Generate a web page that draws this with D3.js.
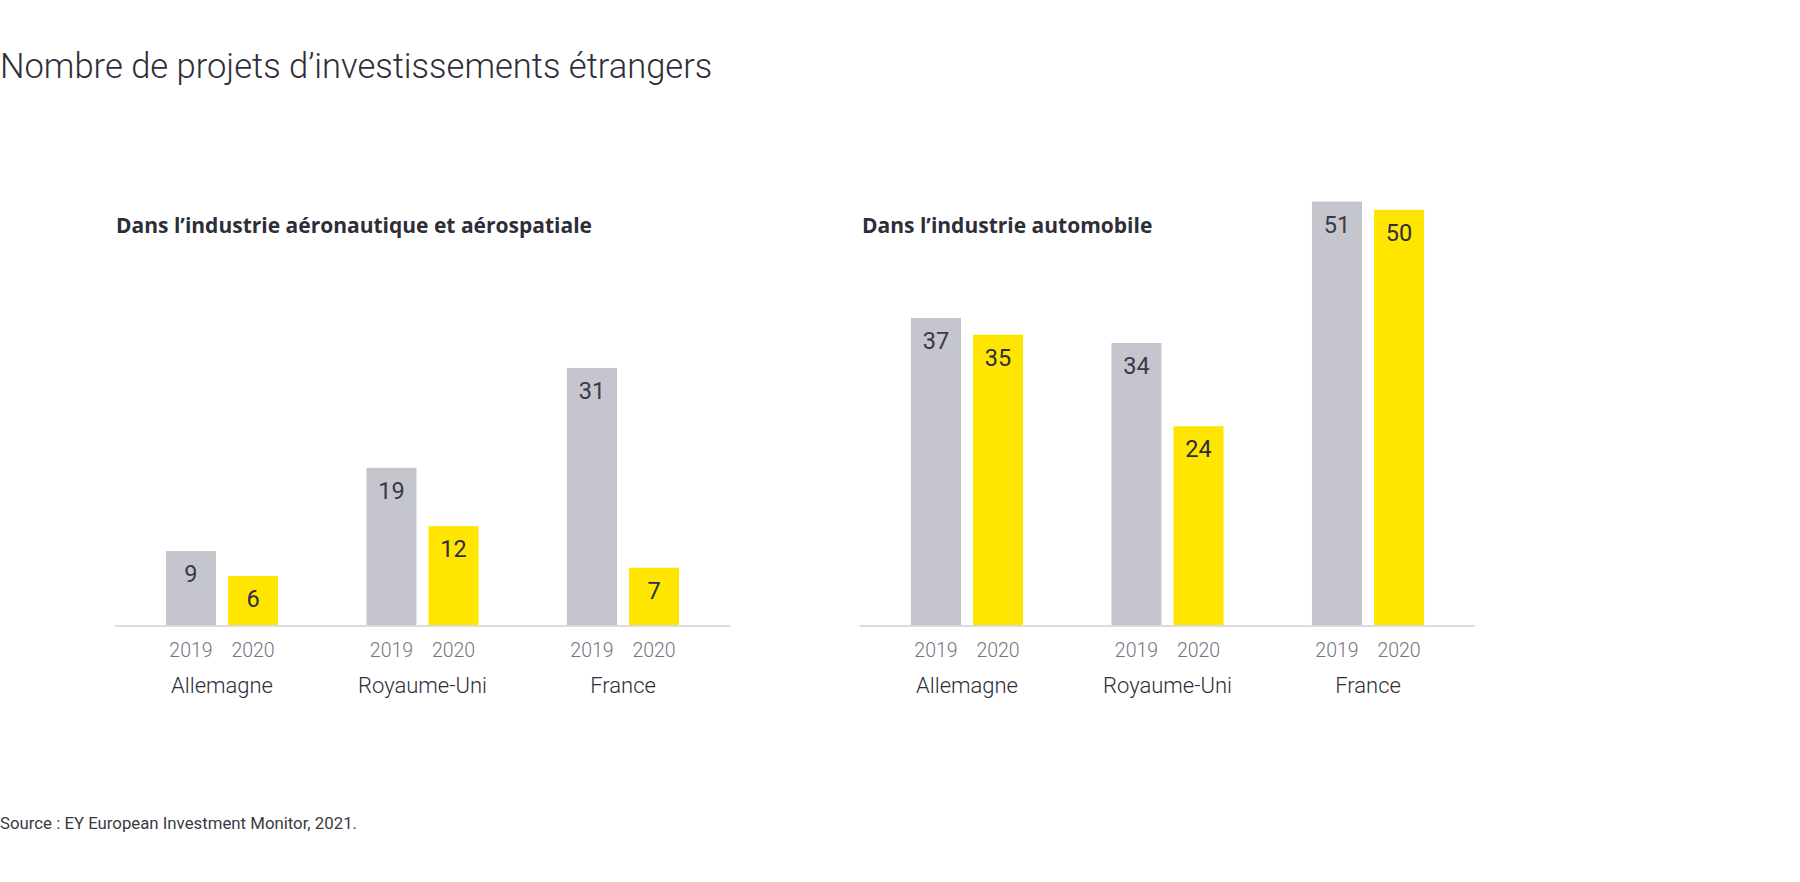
<!DOCTYPE html>
<html lang="fr">
<head>
  <meta charset="UTF-8">
  <title>Nombre de projets d'investissements étrangers</title>
  <script src="https://d3js.org/d3.v7.min.js"></script>
  <style>
    body { margin: 0; background: #fff; }
    svg { display: block; font-family: Roboto, "Noto Sans", sans-serif; }
  </style>
</head>
<body>
  <svg width="1800" height="882"></svg>

  <script>
    // Data
    const countries = ["Allemagne", "Royaume-Uni", "France"];
    const years = ["2019", "2020"];
    const aero2019 = [9, 19, 31];
    const aero2020 = [6, 12, 7];
    const auto2019 = [37, 34, 51];
    const auto2020 = [35, 24, 50];
    const panelTitles = ["Dans l’industrie aéronautique et aérospatiale", "Dans l’industrie automobile"];

    const colors = { "2019": "#c4c5cd", "2020": "#ffe600" };

    const svg = d3.select("svg");

    // Main title + source
    svg.append("text")
      .attr("x", 0).attr("y", 78)
      .attr("font-size", 34.5).attr("font-weight", 300)
      .attr("fill", "#2e2e38")
      .text("Nombre de projets d’investissements étrangers");

    svg.append("text")
      .attr("x", 0).attr("y", 829)
      .attr("font-size", 16.8)
      .attr("fill", "#3a3a44")
      .text("Source : EY European Investment Monitor, 2021.");

    // Shared y scale for both panels
    const baseY = 626;
    const y = d3.scaleLinear().domain([0, 51]).range([baseY, 201.5]);

    const panels = [
      { title: panelTitles[0], titleX: 116, x0: 121.75, values: [aero2019, aero2020] },
      { title: panelTitles[1], titleX: 862, x0: 866.75, values: [auto2019, auto2020] }
    ];

    panels.forEach(p => {
      const g = svg.append("g");

      const x = d3.scaleBand()
        .domain(countries)
        .range([p.x0, p.x0 + 601.5])
        .paddingInner(0.441)
        .paddingOuter(0.2205);

      const xYear = d3.scaleBand()
        .domain(years)
        .range([0, x.bandwidth()])
        .paddingInner(0.194);

      g.append("text")
        .attr("x", p.titleX).attr("y", 233)
        .attr("font-size", 21).attr("font-weight", 700)
        .attr("font-family", "'Open Sans', sans-serif")
        .attr("fill", "#2e2e38")
        .text(p.title);

      // baseline
      g.append("line")
        .attr("x1", x.range()[0] - 7).attr("x2", x.range()[1] + 7)
        .attr("y1", baseY).attr("y2", baseY)
        .attr("stroke", "#dcdce0").attr("stroke-width", 2);

      const rows = countries.map((c, i) => ({
        country: c,
        bars: years.map((yr, j) => ({ year: yr, value: p.values[j][i] }))
      }));

      const groups = g.selectAll(".grp")
        .data(rows)
        .enter()
        .append("g")
        .attr("transform", d => "translate(" + x(d.country) + ",0)");

      groups.selectAll("rect")
        .data(d => d.bars)
        .enter()
        .append("rect")
        .attr("x", d => xYear(d.year))
        .attr("y", d => y(d.value))
        .attr("width", xYear.bandwidth())
        .attr("height", d => baseY - y(d.value) - 1)
        .attr("fill", d => colors[d.year]);

      groups.selectAll(".val")
        .data(d => d.bars)
        .enter()
        .append("text")
        .attr("x", d => xYear(d.year) + xYear.bandwidth() / 2)
        .attr("y", d => y(d.value) + 31)
        .attr("text-anchor", "middle")
        .attr("font-size", 23.5)
        .attr("fill", d => d.year === "2019" ? "#3a3a44" : "#2e2e38")
        .text(d => d.value);

      // year axis under each group
      groups.append("g")
        .attr("transform", "translate(0," + baseY + ")")
        .call(d3.axisBottom(xYear).tickSize(0).tickPadding(17))
        .call(a => a.select(".domain").remove())
        .call(a => a.selectAll("text")
          .attr("font-size", 19.5)
          .attr("font-family", "Roboto, sans-serif")
          .attr("font-weight", 300)
          .attr("fill", "#747480"));

      // country axis
      g.append("g")
        .attr("transform", "translate(0," + baseY + ")")
        .call(d3.axisBottom(x).tickSize(0).tickPadding(51))
        .call(a => a.select(".domain").remove())
        .call(a => a.selectAll("text")
          .attr("font-size", 22)
          .attr("font-family", "Roboto, sans-serif")
          .attr("font-weight", 300)
          .attr("fill", "#2e2e38"));
    });
  </script>
</body>
</html>
